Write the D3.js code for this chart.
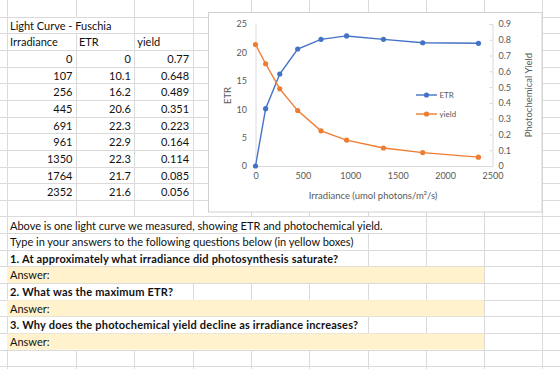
<!DOCTYPE html>
<html><head><meta charset="utf-8">
<script src="https://cdn.jsdelivr.net/npm/d3@7"></script>
<style>html,body{margin:0;padding:0;background:#fff;}svg{display:block;font-family:Lato,"Open Sans",sans-serif;}</style>
</head><body>
<svg id="c" width="560" height="369"></svg>
<script>
// ---- data ----
const irradiance = [0, 107, 256, 445, 691, 961, 1350, 1764, 2352];
const etr = [0, 10.1, 16.2, 20.6, 22.3, 22.9, 22.3, 21.7, 21.6];
const yieldVals = [0.77, 0.648, 0.489, 0.351, 0.223, 0.164, 0.114, 0.085, 0.056];
const xTicks = [0, 500, 1000, 1500, 2000, 2500];
const etrTicks = [0, 5, 10, 15, 20, 25];
const yieldTicks = [0, 0.1, 0.2, 0.3, 0.4, 0.5, 0.6, 0.7, 0.8, 0.9];
const seriesNames = ["ETR", "yield"];
const tableTitle = "Light Curve - Fuschia";
const tableHeaders = ["Irradiance", "ETR", "yield"];
const xTitle = "Irradiance (umol photons/m²/s)";
const yTitle = "ETR";
const y2Title = "Photochemical Yield";
const sheetLines = [
  {row: 13, text: "Above is one light curve we measured, showing ETR and photochemical yield.", bold: false},
  {row: 14, text: "Type in your answers to the following questions below (in yellow boxes)", bold: false},
  {row: 15, text: "1. At approximately what irradiance did photosynthesis saturate?", bold: true},
  {row: 16, text: "Answer:", bold: false, fill: true},
  {row: 17, text: "2. What was the maximum ETR?", bold: true},
  {row: 18, text: "Answer:", bold: false, fill: true},
  {row: 19, text: "3. Why does the photochemical yield decline as irradiance increases?", bold: true},
  {row: 20, text: "Answer:", bold: false, fill: true}
];

// ---- layout ----
const W = 560, H = 369;
const rowH = 16.65;
const colX = [7, 76, 134.3, 192.6, 250.9, 309.2, 367.5, 425.8, 484.1, 542.4];
const nRows = 23;
const gridColor = "#dadada";
const fillColor = "#fff2cc";
const cellFont = 11;
const svg = d3.select("#c");
const rowTop = r => r * rowH;
const rowBottom = r => (r + 1) * rowH;
const px = v => Math.round(v) + 0.5;

// cells with text (row, col start, text, align, bold)
const cells = [];
cells.push({row: 1, col: 0, text: tableTitle, align: "start"});
tableHeaders.forEach((h, i) => cells.push({row: 2, col: i, text: h, align: "start"}));
irradiance.forEach((v, i) => {
  cells.push({row: 3 + i, col: 0, text: String(v), align: "end"});
  cells.push({row: 3 + i, col: 1, text: String(etr[i]), align: "end"});
  cells.push({row: 3 + i, col: 2, text: String(yieldVals[i]), align: "end"});
});
sheetLines.forEach(l => cells.push({row: l.row, col: 0, text: l.text, align: "start", bold: l.bold, fill: l.fill}));

const gGrid = svg.append("g");
const gFill = svg.append("g");
const gText = svg.append("g");

// draw texts first to measure overflow
const hidden = new Set();
cells.forEach(c => {
  const x = c.align === "start" ? colX[c.col] + 3 : colX[c.col + 1] - 3.5;
  const t = gText.append("text")
    .attr("x", x).attr("y", rowBottom(c.row) - 3.6)
    .attr("text-anchor", c.align)
    .attr("font-size", cellFont)
    .attr("font-weight", c.bold ? 700 : 400)
    .attr("letter-spacing", c.bold ? 0.2 : 0)
    .attr("fill", "#111")
    .text(c.text);
  if (c.align === "start") {
    const end = x + t.node().getBBox().width;
    colX.forEach((cx, j) => { if (j > c.col && cx < end + 2) hidden.add(c.row + ":" + j); });
  }
});
sheetLines.filter(l => l.fill).forEach(l => {
  gFill.append("rect").attr("x", colX[0]).attr("y", rowTop(l.row) + 0.5)
    .attr("width", colX[8] - colX[0]).attr("height", rowH - 0.5).attr("fill", fillColor);
  for (let j = 1; j < 8; j++) hidden.add(l.row + ":" + j);
});

// grid
for (let r = 1; r < nRows; r++) {
  gGrid.append("line").attr("x1", 0).attr("x2", W).attr("y1", px(rowTop(r))).attr("y2", px(rowTop(r)))
    .attr("stroke", gridColor).attr("stroke-width", 1);
}
for (let r = 0; r < nRows; r++) {
  colX.forEach((cx, j) => {
    if (hidden.has(r + ":" + j)) return;
    gGrid.append("line").attr("x1", px(cx)).attr("x2", px(cx)).attr("y1", rowTop(r)).attr("y2", rowBottom(r))
      .attr("stroke", gridColor).attr("stroke-width", 1);
  });
}

// ---- chart ----
const gc = svg.append("g");
gc.append("rect").attr("x", 208.5).attr("y", 12.5).attr("width", 333.5).attr("height", 199.5)
  .attr("fill", "#fff").attr("stroke", "#d0d0d0").attr("stroke-width", 1);

const x = d3.scaleLinear().domain([0, 2500]).range([255.5, 492.5]);
const y = d3.scaleLinear().domain([0, 25]).range([166, 24]);
const y2 = d3.scaleLinear().domain([0, 0.9]).range([166, 24]);
const axisGray = "#d9d9d9", labelGray = "#595959";

const xAxis = gc.append("g").attr("transform", "translate(0,166)")
  .call(d3.axisBottom(x).tickValues(xTicks).tickSize(0).tickPadding(7).tickFormat(d3.format("d")));
const yAxis = gc.append("g").attr("transform", "translate(255.5,0)")
  .call(d3.axisLeft(y).tickValues(etrTicks).tickSize(0).tickPadding(8.5).tickFormat(d3.format("d")));
const y2Axis = gc.append("g").attr("transform", "translate(492.5,0)")
  .call(d3.axisRight(y2).tickValues(yieldTicks).tickSize(-3).tickPadding(6)
    .tickFormat(d => d === 0 ? "0" : d3.format(".1f")(d)));
[xAxis, yAxis, y2Axis].forEach(a => {
  a.select(".domain").attr("stroke", axisGray);
  a.selectAll(".tick line").attr("stroke", axisGray);
  a.selectAll("text").attr("fill", labelGray).attr("font-size", 9).attr("font-family", "Lato, sans-serif");
});

gc.append("text").attr("transform", "translate(231,95.5) rotate(-90)").attr("text-anchor", "middle")
  .attr("font-size", 9.5).attr("fill", labelGray).text(yTitle);
gc.append("text").attr("transform", "translate(531.5,95) rotate(-90)").attr("text-anchor", "middle")
  .attr("font-size", 9.5).attr("fill", labelGray).text(y2Title);
gc.append("text").attr("x", 373).attr("y", 198.5).attr("text-anchor", "middle")
  .attr("font-size", 9.5).attr("fill", labelGray).text(xTitle);

const colors = ["#4472c4", "#ed7d31"];
const series = [
  {name: seriesNames[0], vals: etr, sc: y},
  {name: seriesNames[1], vals: yieldVals, sc: y2}
];
series.forEach((s, i) => {
  const pts = irradiance.map((v, k) => [x(v), s.sc(s.vals[k])]);
  gc.append("path").attr("d", d3.line()(pts)).attr("fill", "none")
    .attr("stroke", colors[i]).attr("stroke-width", 1.4);
  gc.selectAll(null).data(pts).enter().append("circle")
    .attr("cx", d => d[0]).attr("cy", d => d[1]).attr("r", 2.6).attr("fill", colors[i]);
  // legend
  const ly = 95 + i * 19;
  gc.append("line").attr("x1", 416).attr("x2", 437).attr("y1", ly).attr("y2", ly)
    .attr("stroke", colors[i]).attr("stroke-width", 1.4);
  gc.append("circle").attr("cx", 426.5).attr("cy", ly).attr("r", 2.6).attr("fill", colors[i]);
  gc.append("text").attr("x", 439.5).attr("y", ly + 2.8).attr("font-size", 8)
    .attr("fill", labelGray).text(s.name);
});
</script>
</body></html>
